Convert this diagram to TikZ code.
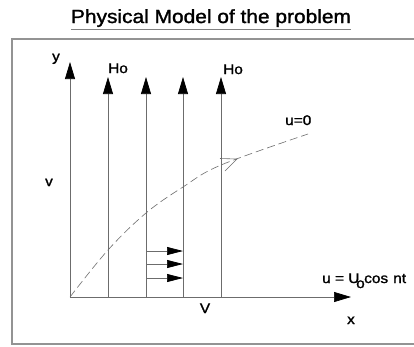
\documentclass[tikz,border=0pt]{standalone}
\usepackage{fontspec}
\setmainfont{Liberation Sans}
\newfontfamily\heavyfont{Liberation Sans}[FakeBold=1.4]
\usetikzlibrary{arrows.meta}
\newcommand\sxx[1]{\scalebox{1.1}[1]{#1}}
\tikzset{
  frameline/.style={draw=gray!85, line width=1.1pt},
  axisline/.style={draw=gray!85!black, line width=0.7pt},
  uparrow/.style={axisline, -{Triangle[length=17pt,width=10pt,black]}},
  smallarrow/.style={axisline, -{Triangle[length=16pt,width=8pt,black]}},
  lbl/.style={font=\heavyfont\fontsize{14}{16}\selectfont, inner sep=0pt},
  flowcurve/.style={draw=gray!85!black, line width=0.6pt, dash pattern=on 8pt off 4pt},
  barb/.style={draw=gray!85!black, line width=0.6pt, line join=miter}
}
\begin{document}
\begin{tikzpicture}[x=1pt,y=-1pt]
\useasboundingbox (0,0) rectangle (414,346);
\clip (0,0) rectangle (414,346);
\fill[white] (0,0) rectangle (414,346);
% title
\node[font=\heavyfont\fontsize{19}{22}\selectfont, inner xsep=0pt, inner ysep=2pt, anchor=base] (title) at (211,23) {\sxx{Physical Model of the problem}};
\draw[gray, line width=1pt] (title.south west) -- (title.south east);
% frame
\draw[frameline] (414,39) -- (12,39) -- (12,344) -- (414,344);
% coordinates
\coordinate (O) at (70,297);
\coordinate (ytip) at (70,62);
\coordinate (xtip) at (351,297);
\coordinate (b1) at (108,297); \coordinate (t1) at (108,77);
\coordinate (b2) at (146,297); \coordinate (t2) at (146,77);
\coordinate (b3) at (183,297); \coordinate (t3) at (183,77);
\coordinate (b4) at (221,297); \coordinate (t4) at (221,77);
\coordinate (s1a) at (146,251); \coordinate (s1b) at (183,251);
\coordinate (s2a) at (146,264); \coordinate (s2b) at (183,264);
\coordinate (s3a) at (146,278); \coordinate (s3b) at (183,278);
\coordinate (cend) at (308,134);
\coordinate (btip) at (237,159);
% axes
\draw[uparrow] (O) -- (ytip);
\draw[uparrow] (O) -- (xtip);
% vertical field arrows
\draw[uparrow] (b1) -- (t1);
\draw[uparrow] (b2) -- (t2);
\draw[uparrow] (b3) -- (t3);
\draw[uparrow] (b4) -- (t4);
% small velocity arrows
\draw[smallarrow] (s1a) -- (s1b);
\draw[smallarrow] (s2a) -- (s2b);
\draw[smallarrow] (s3a) -- (s3b);
% dashed curve
\draw[flowcurve] plot[smooth, tension=0.6] coordinates {(O) (108,250) (146,213) (183,187) (221,165) (cend)};
% open arrowhead on the curve
\draw[barb] (220,158.5) -- (btip) -- (225,171);
% labels
\node[lbl, anchor=base] (ylbl) at (56,61) {\sxx{y}};
\node[lbl, anchor=base west] (ho1) at (108,73) {\sxx{Ho}};
\node[lbl, anchor=base west] (ho2) at (223,74) {\sxx{Ho}};
\node[lbl, anchor=base west] (uzero) at (285,125) {\sxx{u=0}};
\node[lbl, anchor=base] (vlbl) at (49,186) {\sxx{v}};
\node[lbl, anchor=base] (Vlbl) at (205,313) {\sxx{V}};
\node[lbl, anchor=base] (xlbl) at (351,324) {\sxx{x}};
\node[lbl, anchor=base west] (ulbl) at (322,283) {\makebox[34pt][l]{\sxx{u = U}}\makebox[8pt][l]{\raisebox{-5pt}{\sxx{o}}}\makebox[29pt][l]{\sxx{cos}}\sxx{nt}};
\end{tikzpicture}
\end{document}
